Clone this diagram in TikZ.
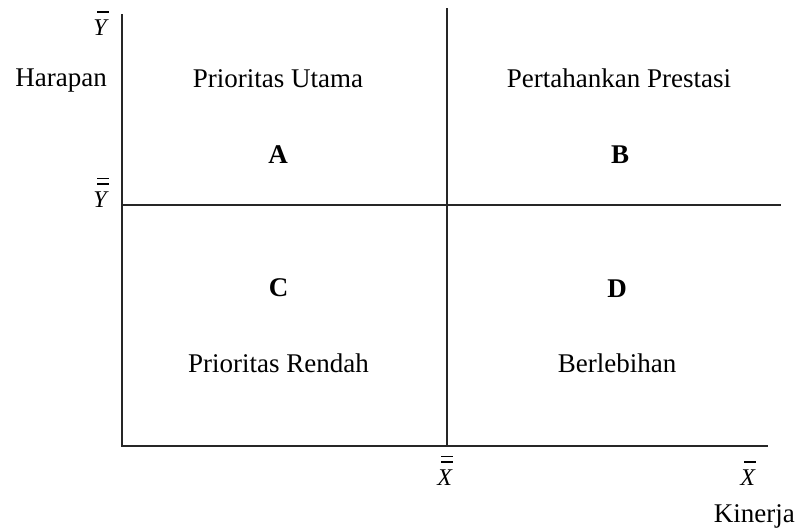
\documentclass[tikz,border=0pt]{standalone}
\usepackage{fontspec}
\setmainfont{Liberation Serif}
\newcommand{\onebar}[1]{\ooalign{\hfil\kern0.15em\raisebox{0.93em}{\rule{0.48em}{0.07em}}\hfil\cr\itshape #1\/}}
\newcommand{\twobar}[1]{\ooalign{\hfil\kern0.15em\raisebox{0.93em}{\rule{0.48em}{0.07em}}\hfil\cr\hfil\kern0.15em\raisebox{1.15em}{\rule{0.48em}{0.07em}}\hfil\cr\itshape #1\/}}
\begin{document}
\begin{tikzpicture}[x=1pt,y=-1pt,
  lbl/.style={inner sep=0pt,font=\fontsize{27}{30}\selectfont},
  letter/.style={inner sep=0pt,font=\fontsize{27}{30}\selectfont\bfseries},
  sym/.style={inner sep=0pt,font=\fontsize{24}{28}\selectfont},
  axis/.style={line width=1.5pt,black!85}]
\useasboundingbox (0,0) rectangle (799,528);
% axes and dividing lines
\coordinate (ytop) at (122,14);
\coordinate (orig) at (122,446);
\coordinate (xend) at (768,446);
\coordinate (mvtop) at (447,8);
\coordinate (mvbot) at (447,446);
\coordinate (mhl) at (122,205);
\coordinate (mhr) at (781,205);
\draw[axis] (ytop) -- (orig) -- (xend);
\draw[axis] (mvtop) -- (mvbot);
\draw[axis] (mhl) -- (mhr);
% axis labels
\node[sym,anchor=base] (ybar) at (101,35) {\onebar{Y}};
\node[sym,anchor=base] (ybb) at (101,207) {\twobar{Y}};
\node[sym,anchor=base] (xbb) at (445,485) {\twobar{X}};
\node[sym,anchor=base] (xbar) at (748,485) {\onebar{X}};
\node[lbl,anchor=base east] (harapan) at (107,86) {Harapan};
\node[lbl,anchor=base east] (kinerja) at (795,522) {Kinerja};
% quadrant texts
\node[lbl,anchor=base] (pu) at (278,87) {Prioritas Utama};
\node[lbl,anchor=base] (pp) at (619,87) {Pertahankan Prestasi};
\node[letter,anchor=base] (A) at (278,163) {A};
\node[letter,anchor=base] (B) at (620,163) {B};
\node[letter,anchor=base] (C) at (278.5,296) {C};
\node[letter,anchor=base] (D) at (617,297) {D};
\node[lbl,anchor=base] (pr) at (278.5,372) {Prioritas Rendah};
\node[lbl,anchor=base] (bl) at (617,372) {Berlebihan};
\end{tikzpicture}
\end{document}
